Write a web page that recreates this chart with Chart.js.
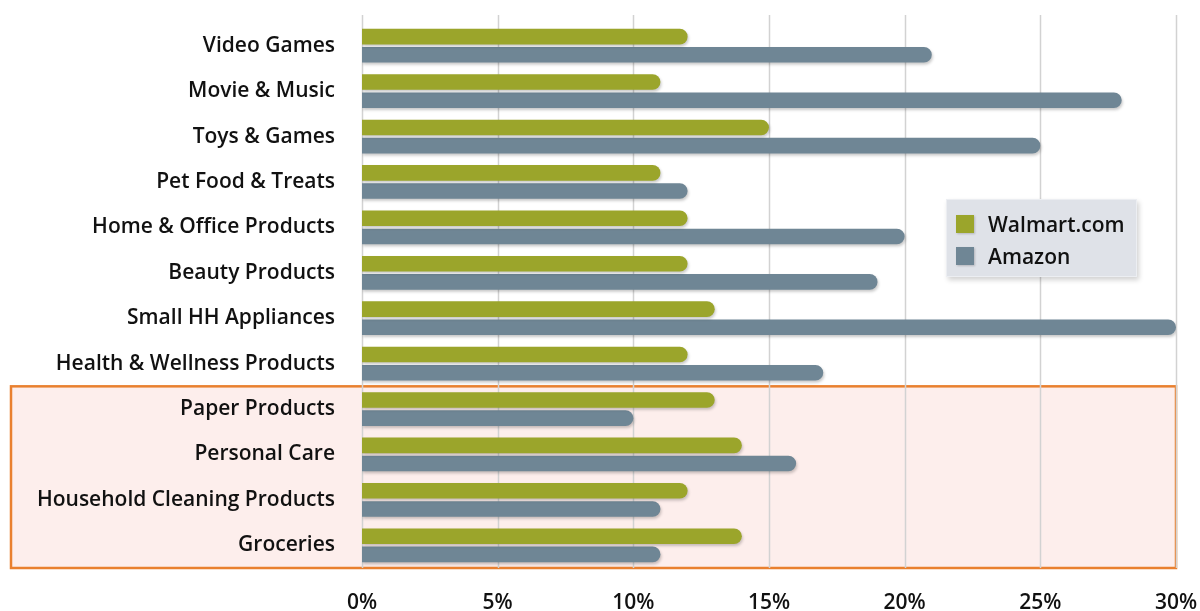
<!DOCTYPE html>
<html>
<head>
<meta charset="utf-8">
<script src="https://cdn.jsdelivr.net/npm/chart.js@4.4.1/dist/chart.umd.min.js"></script>
<style>
  html, body { margin: 0; padding: 0; background: #fff; }
  #wrap { position: relative; width: 1200px; height: 611px; }
  #legend {
    position: absolute; left: 946px; top: 199px; width: 191px; height: 78px;
    box-sizing: border-box; padding: 8px 0 0 9px;
    background: #dfe2e8; border: 1px solid #eceef2;
    box-shadow: 2px 3px 5px rgba(0,0,0,0.18);
    font-family: "Open Sans", sans-serif; font-weight: 600; font-size: 21px; color: #111;
  }
  .item { display: flex; align-items: center; height: 32px; }
  .sw { width: 18px; height: 18px; margin-right: 14px; box-shadow: 1px 1px 2px rgba(0,0,0,0.2); }
</style>
</head>
<body>
<div id="wrap">
  <canvas id="c" width="1200" height="611"></canvas>
  <div id="legend"></div>
</div>
<script>
// categories, top to bottom
const categories = [
  'Video Games', 'Movie & Music', 'Toys & Games', 'Pet Food & Treats',
  'Home & Office Products', 'Beauty Products', 'Small HH Appliances',
  'Health & Wellness Products', 'Paper Products', 'Personal Care',
  'Household Cleaning Products', 'Groceries'
];
const seriesNames = ['Walmart.com', 'Amazon'];
const walmart = [12, 11, 15, 11, 12, 12, 13, 12, 13, 14, 12, 14];
const amazon  = [21, 28, 25, 12, 20, 19, 30, 17, 10, 16, 11, 11];
const xTicks = [0, 5, 10, 15, 20, 25, 30];
// highlighted group (first and last category index)
const highlightFrom = 8;
const highlightTo = 11;

const GREEN = '#9ba52b';
const SLATE = '#6f8695';
const FONT = '"Open Sans", sans-serif';

// pink highlight box behind everything
const highlightBox = {
  id: 'highlightBox',
  beforeDraw(chart) {
    const { ctx, chartArea, scales: { y } } = chart;
    const half = (y.getPixelForValue(1) - y.getPixelForValue(0)) / 2;
    const top = y.getPixelForValue(highlightFrom) - half;
    const bottom = y.getPixelForValue(highlightTo) + half;
    ctx.save();
    ctx.fillStyle = '#fdeeec';
    ctx.fillRect(11, top, chartArea.right - 11, bottom - top);
    ctx.strokeStyle = '#e9802f';
    ctx.lineWidth = 2.5;
    ctx.strokeRect(11, top, chartArea.right - 11, bottom - top);
    ctx.restore();
  }
};

// vertical gridlines, starting a little above the plot
const fullGrid = {
  id: 'fullGrid',
  beforeDatasetsDraw(chart) {
    const { ctx, chartArea, scales: { x } } = chart;
    ctx.save();
    ctx.strokeStyle = '#d2d2d2';
    ctx.lineWidth = 1.5;
    xTicks.forEach(v => {
      const px = Math.round(x.getPixelForValue(v)) + 0.5;
      ctx.beginPath();
      ctx.moveTo(px, 15);
      ctx.lineTo(px, chartArea.bottom);
      ctx.stroke();
    });
    ctx.shadowColor = 'rgba(0,0,0,0.22)';
    ctx.shadowBlur = 3;
    ctx.shadowOffsetX = 1;
    ctx.shadowOffsetY = 2;
  },
  afterDatasetsDraw(chart) {
    chart.ctx.restore();
  }
};

new Chart(document.getElementById('c'), {
  type: 'bar',
  data: {
    labels: categories,
    datasets: [
      { label: seriesNames[0], data: walmart, backgroundColor: GREEN },
      { label: seriesNames[1], data: amazon, backgroundColor: SLATE }
    ]
  },
  options: {
    indexAxis: 'y',
    responsive: false,
    animation: false,
    layout: { padding: { top: 23, right: 24, left: 0, bottom: 0 } },
    datasets: {
      bar: { categoryPercentage: 0.8, barPercentage: 0.86, borderRadius: 8, borderSkipped: 'start' }
    },
    plugins: { legend: { display: false }, tooltip: { enabled: false } },
    scales: {
      x: {
        min: 0, max: 30,
        afterBuildTicks(scale) { scale.ticks = xTicks.map(v => ({ value: v })); },
        afterFit(scale) {
          scale.height = 43;
          scale.paddingLeft = 0;
          scale.paddingRight = 0;
        },
        grid: { display: false },
        border: { display: false },
        ticks: {
          padding: 14,
          color: '#111',
          font: { family: FONT, size: 21, weight: '600' },
          callback: v => v + '%'
        }
      },
      y: {
        afterFit(scale) {
          scale.width = 362;
          scale.paddingTop = 0;
          scale.paddingBottom = 0;
        },
        grid: { display: false },
        border: { display: false },
        ticks: {
          padding: 19,
          color: '#111',
          font: { family: FONT, size: 21, weight: '600' }
        }
      }
    }
  },
  plugins: [highlightBox, fullGrid]
});

// legend built from the series names
const legend = document.getElementById('legend');
[GREEN, SLATE].forEach((col, i) => {
  const row = document.createElement('div');
  row.className = 'item';
  const sw = document.createElement('div');
  sw.className = 'sw';
  sw.style.background = col;
  const t = document.createElement('span');
  t.textContent = seriesNames[i];
  row.appendChild(sw);
  row.appendChild(t);
  legend.appendChild(row);
});
</script>
</body>
</html>
